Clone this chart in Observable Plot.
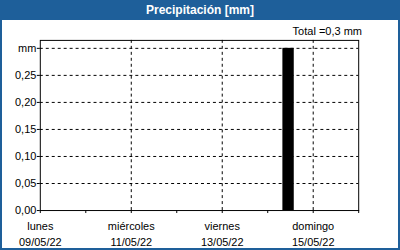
<!DOCTYPE html>
<html>
<head>
<meta charset="utf-8">
<script src="https://cdn.jsdelivr.net/npm/d3@7"></script>
<script src="https://cdn.jsdelivr.net/npm/@observablehq/plot@0.6"></script>
<style>
  html, body { margin: 0; padding: 0; background: #fff; }
  #card { position: relative; width: 400px; height: 250px; box-sizing: border-box;
          border-left: 2px solid #1e5f9a; border-right: 2px solid #1e5f9a; border-bottom: 2px solid #1e5f9a;
          font-family: "Liberation Sans", Arial, sans-serif; overflow: hidden; background: #fff; }
  #hdr { position: absolute; left: -2px; top: 0; width: 400px; height: 20px; background: #1e5f9a;
         color: #fff; font-weight: bold; font-size: 12px; line-height: 20px; text-align: center; }
  #total { position: absolute; right: 36px; top: 25px; font-size: 11px; color: #000; }
  #chart { position: absolute; left: -2px; top: 20px; }
</style>
</head>
<body>
<div id="card">
  <div id="hdr">Precipitación [mm]</div>
  <div id="total">Total =0,3 mm</div>
  <div id="chart"></div>
</div>
<script>
// Data
const periodStart = ["2022-05-14T08:00:00Z"];
const periodEnd   = ["2022-05-14T14:00:00Z"];
const precipitation = [0.30];
const totalLabel = "Total =0,3 mm";

const dayTicks = ["2022-05-09","2022-05-10","2022-05-11","2022-05-12","2022-05-13","2022-05-14","2022-05-15","2022-05-16"];
const labelTicks = ["2022-05-09","2022-05-11","2022-05-13","2022-05-15"];
const labelDays = ["lunes","miércoles","viernes","domingo"];
const labelDates = ["09/05/22","11/05/22","13/05/22","15/05/22"];
const gridXTicks = ["2022-05-11","2022-05-13","2022-05-15"];
const yTicks = [0, 0.05, 0.10, 0.15, 0.20, 0.25, 0.30];
const yUnit = "mm";

document.getElementById("total").textContent = totalLabel;

const bars = periodStart.map((s, i) => ({x1: new Date(s), x2: new Date(periodEnd[i]), y: precipitation[i]}));
const toDate = s => new Date(s + "T00:00:00Z");
const labelMap = new Map(labelTicks.map((t, i) => [+toDate(t), labelDays[i] + "\n" + labelDates[i]]));
const fmt = v => Math.abs(v - 0.30) < 1e-9 ? yUnit : d3.format(".2f")(v).replace(".", ",");

const chart = Plot.plot({
  width: 400,
  height: 230,
  marginLeft: 40,
  marginRight: 40,
  marginTop: 20,
  marginBottom: 39,
  style: { fontFamily: "Liberation Sans, Arial, sans-serif", fontSize: "11px", color: "#000", background: "transparent" },
  x: { type: "utc", domain: [toDate("2022-05-09"), toDate("2022-05-16")] },
  y: { domain: [0, 0.3147] },
  marks: [
    Plot.gridY(yTicks.filter(d => d > 0), { stroke: "#000", strokeOpacity: 1, strokeDasharray: "3,3" }),
    Plot.gridX(gridXTicks.map(toDate), { stroke: "#000", strokeOpacity: 1, strokeDasharray: "3,3" }),
    Plot.rectY(bars, { x1: "x1", x2: "x2", y: "y", fill: "#000" }),
    Plot.axisY(yTicks, { tickSize: 3, tickPadding: 1, tickFormat: fmt, label: null, fontSize: 11 }),
    Plot.axisX(dayTicks.map(toDate), { tickSize: 3, tickFormat: () => "", label: null }),
    Plot.axisX(labelTicks.map(toDate), { tickSize: 0, tickPadding: 8, tickFormat: d => labelMap.get(+d), lineHeight: 1.45, label: null, fontSize: 11 }),
    Plot.frame({ stroke: "#000" })
  ]
});
document.getElementById("chart").appendChild(chart);
</script>
</body>
</html>
